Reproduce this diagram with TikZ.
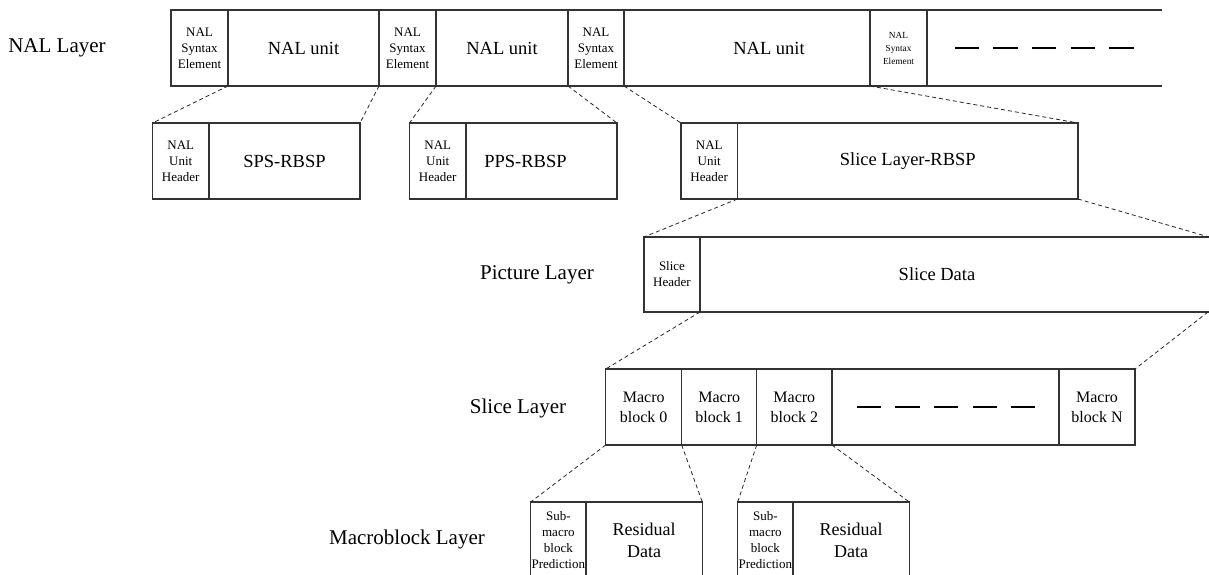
\documentclass[tikz,border=0pt]{standalone}
\usepackage{fontspec}
\setmainfont{Liberation Serif}
\usetikzlibrary{calc}

\newcommand{\fsz}[2]{\fontsize{#1}{#2}\selectfont}

\tikzset{
  cell/.style={draw=black!80, line width=1.1pt, inner sep=0pt, outer sep=0pt,
               anchor=north west, align=center, minimum height=76pt},
  rowline/.style={draw=black!80, line width=1.1pt},
  link/.style={draw=black!85, line width=0.8pt, dash pattern=on 4pt off 3pt},
  gapdash/.style={draw=black, line width=2pt, dash pattern=on 24.5pt off 14.2pt},
  title/.style={font=\fsz{21}{25}},
  big/.style={font=\fsz{18.5}{22}},
  mid/.style={font=\fsz{16}{20}},
  small/.style={font=\fsz{13}{16}},
  tiny/.style={font=\fsz{9.3}{13}},
}

\begin{document}
\begin{tikzpicture}[x=1pt, y=-1pt]
\clip (0,0) rectangle (1209,575);

% ---- NAL layer -------------------------------------------------------
\node[title] (lnal) at (57,48) {NAL Layer};
\node[cell, small, minimum width=57pt]  (se1) at (171,10) {NAL\\Syntax\\Element};
\node[cell, big,   minimum width=151pt] (u1)  at (228,10) {NAL unit};
\node[cell, small, minimum width=57pt]  (se2) at (379,10) {NAL\\Syntax\\Element};
\node[cell, big,   minimum width=132pt] (u2)  at (436,10) {NAL unit};
\node[cell, small, minimum width=56pt]  (se3) at (568,10) {NAL\\Syntax\\Element};
\node[cell, minimum width=246pt,
      label={[big, xshift=22pt]center:NAL unit}] (u3) at (624,10) {};
\node[cell, tiny,  minimum width=57pt]  (se4) at (870,10) {NAL\\Syntax\\Element};
\node[cell, draw=none, minimum width=235pt] (tail) at (927,10) {};
\draw[rowline] (tail.north west) -- (tail.north east)
               (tail.south west) -- (tail.south east);
\draw[gapdash] ($(tail.center)+(-90,0)$) -- ($(tail.center)+(90,0)$);

% ---- RBSP row --------------------------------------------------------
\node[cell, small, minimum width=56.5pt] (h1)  at (152.5,123) {NAL\\Unit\\Header};
\node[cell, big,   minimum width=151pt]  (sps) at (209,123) {SPS-RBSP};
\node[cell, small, minimum width=56.5pt] (h2)  at (409.5,123) {NAL\\Unit\\Header};
\node[cell, minimum width=151pt,
      label={[big, xshift=-16pt]center:PPS-RBSP}] (pps) at (466,123) {};
\node[cell, small, minimum width=56.5pt] (h3)  at (681,123) {NAL\\Unit\\Header};
\node[cell, big,   minimum width=340.5pt] (rbsp) at (737.5,123) {Slice Layer-RBSP};

\draw[link] (se1.south east) -- (h1.north west);
\draw[link] (se2.south west) -- (sps.north east);
\draw[link] (se2.south east) -- (h2.north west);
\draw[link] (u2.south east)  -- (pps.north east);
\draw[link] (se3.south east) -- (h3.north west);
\draw[link] (u3.south east)  -- (rbsp.north east);

% ---- Picture layer ---------------------------------------------------
\node[title] (lpic) at (537,275) {Picture Layer};
\node[cell, small, minimum width=56pt, minimum height=75pt] (sh) at (644,237) {Slice\\Header};
\node[cell, minimum width=520pt, minimum height=75pt,
      label={[big, xshift=-23pt]center:Slice Data}] (sd) at (700,237) {};
\coordinate (sdtop) at (1209,237);
\coordinate (sdbot) at (1208,312);

\draw[link] (h3.south east)   -- (sh.north west);
\draw[link] (rbsp.south east) -- (sdtop);

% ---- Slice layer -----------------------------------------------------
\node[title] (lsl) at (518,408) {Slice Layer};
\node[cell, mid, minimum width=76pt]  (mb0) at (605.7,369) {Macro\\block 0};
\node[cell, mid, minimum width=75pt]  (mb1) at (681.7,369) {Macro\\block 1};
\node[cell, mid, minimum width=75.3pt] (mb2) at (756.7,369) {Macro\\block 2};
\node[cell, minimum width=227pt] (gap) at (832,369) {};
\node[cell, mid, minimum width=76pt]  (mbn) at (1059,369) {Macro\\block N};
\draw[gapdash] ($(gap.center)+(-89,0)$) -- ($(gap.center)+(89,0)$);

\draw[link] (sh.south east) -- (mb0.north west);
\draw[link] (sdbot) -- (mbn.north east);

% ---- Macroblock layer ------------------------------------------------
\node[title] (lmb) at (407,539) {Macroblock Layer};
\node[cell, font=\fsz{13}{15.7}, minimum width=55.3pt] (p0) at (530.7,502) {Sub-\\macro\\block\\Prediction};
\node[cell, font=\fsz{18}{21.7}, minimum width=116.3pt] (r0) at (586,502) {Residual\\Data};
\node[cell, font=\fsz{13}{15.7}, minimum width=55.3pt] (p1) at (737.7,502) {Sub-\\macro\\block\\Prediction};
\node[cell, font=\fsz{18}{21.7}, minimum width=116.3pt] (r1) at (793,502) {Residual\\Data};

\draw[link] (mb0.south west) -- (p0.north west);
\draw[link] (mb0.south east) -- (r0.north east);
\draw[link] (mb1.south east) -- (p1.north west);
\draw[link] (mb2.south east) -- (r1.north east);
\end{tikzpicture}
\end{document}
